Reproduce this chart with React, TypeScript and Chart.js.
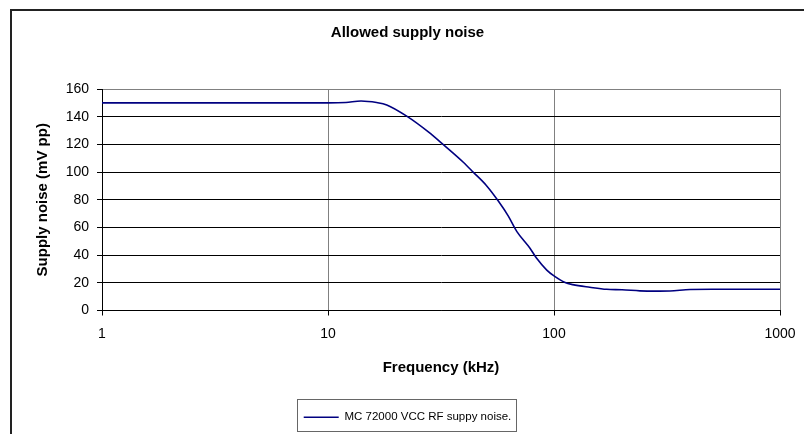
import React, { useEffect, useRef } from "react";
import { Chart, registerables } from "chart.js";

Chart.register(...registerables);

const frequencies = [1, 2, 10, 12, 14, 16.4, 18.2, 22.3, 27.8, 32.4, 39.7, 44, 50.4, 56.7, 62.8, 68.4, 78.3, 83.8, 92.9, 100, 112, 121, 144, 171, 200, 240, 280, 326, 400, 500, 700, 1000];
const noiseValues = [150, 150, 150, 150.3, 151.3, 150.2, 148.5, 140.4, 129, 119.8, 107.1, 99.8, 90, 79.1, 68.2, 57.2, 45, 37.7, 29.2, 25, 20.2, 18.7, 16.8, 15.3, 15, 14.2, 14, 14.1, 15.2, 15.3, 15.3, 15.3];
const xTickValues = [1, 10, 100, 1000];
const xTickLabels = ["1", "10", "100", "1000"];
const yTickStep = 20;
const yMin = 0;
const yMax = 160;

const chartTitle = "Allowed supply noise";
const xTitle = "Frequency (kHz)";
const yTitle = "Supply noise (mV pp)";
const seriesLabel = "MC 72000 VCC RF suppy noise.";

const FONT = "'Liberation Sans', Arial, sans-serif";

const framePlugin = {
  id: "frame",
  beforeDraw(chart: any) {
    const { ctx, width, height } = chart;
    ctx.save();
    ctx.fillStyle = "#ffffff";
    ctx.fillRect(0, 0, width, height);
    ctx.strokeStyle = "#222222";
    ctx.lineWidth = 2;
    ctx.strokeRect(11, 10, width + 20, height + 20);
    ctx.restore();
  },
  afterDraw(chart: any) {
    const legend = chart.legend;
    if (!legend || !legend.legendHitBoxes || !legend.legendHitBoxes.length) return;
    const hb = legend.legendHitBoxes[0];
    const { ctx } = chart;
    ctx.save();
    ctx.strokeStyle = "#666666";
    ctx.lineWidth = 1;
    const left = Math.round(hb.left - 7) + 0.5;
    const right = Math.round(hb.left + hb.width + 5) + 0.5;
    const top = Math.round(hb.top - 13) + 0.5;
    const bottom = top + 32;
    ctx.strokeRect(left, top, right - left, bottom - top);
    ctx.restore();
  },
};

export default function App() {
  const canvasRef = useRef<HTMLCanvasElement | null>(null);

  useEffect(() => {
    if (!canvasRef.current) return;
    Chart.defaults.font.family = FONT;
    Chart.defaults.color = "#000000";

    const chart = new Chart(canvasRef.current, {
      type: "line",
      data: {
        datasets: [
          {
            label: seriesLabel,
            data: frequencies.map((f, i) => ({ x: f, y: noiseValues[i] })),
            borderColor: "#000080",
            backgroundColor: "#000080",
            borderWidth: 1.6,
            pointRadius: 0,
            fill: false,
            cubicInterpolationMode: "monotone",
          },
        ],
      },
      options: {
        responsive: false,
        animation: false,
        layout: { padding: { left: 11, right: 0, top: 10, bottom: 1 } },
        plugins: {
          title: {
            display: true,
            text: chartTitle,
            color: "#000",
            font: { family: FONT, size: 15, weight: "bold" },
            padding: { top: 14, bottom: 47 },
          },
          legend: {
            display: true,
            position: "bottom",
            labels: {
              color: "#000",
              font: { family: FONT, size: 11.5 },
              usePointStyle: true,
              pointStyle: "line",
              pointStyleWidth: 35,
              padding: 2,
            },
          },
          tooltip: { enabled: false },
        },
        scales: {
          x: {
            type: "logarithmic",
            min: 1,
            max: 1000,
            afterBuildTicks: (scale: any) => {
              scale.ticks = xTickValues.map((v) => ({ value: v }));
            },
            afterFit: (scale: any) => {
              scale.height = 99;
              scale.paddingRight = 24;
              scale.paddingLeft = 0;
            },
            ticks: {
              autoSkip: false,
              maxRotation: 0,
              padding: 10,
              color: "#000",
              font: { family: FONT, size: 14 },
              callback: (_v: any, i: number) => xTickLabels[i],
            },
            grid: {
              color: (ctx: any) => (ctx.tick && ctx.tick.value === 1 ? "rgba(0,0,0,0)" : "#808080"),
              tickColor: "#000",
              tickLength: 5,
              lineWidth: 1,
            },
            border: { color: "#000", width: 1 },
            title: {
              display: true,
              text: xTitle,
              color: "#000",
              font: { family: FONT, size: 15, weight: "bold" },
              padding: { top: 0, bottom: 33 },
            },
          },
          y: {
            min: yMin,
            max: yMax,
            afterFit: (scale: any) => {
              scale.width = 91;
            },
            ticks: {
              stepSize: yTickStep,
              padding: 8,
              color: "#000",
              font: { family: FONT, size: 14 },
            },
            grid: {
              color: (ctx: any) => (ctx.tick && ctx.tick.value === yMax ? "#808080" : "#000000"),
              tickColor: "#000",
              tickLength: 5,
              lineWidth: 1,
            },
            border: { color: "#000", width: 1 },
            title: {
              display: true,
              text: yTitle,
              color: "#000",
              font: { family: FONT, size: 15, weight: "bold" },
              padding: { top: 23, bottom: 0 },
            },
          },
        },
      },
      plugins: [framePlugin],
    } as any);

    return () => chart.destroy();
  }, []);

  return (
    <div style={{ position: "absolute", left: 0, top: 0, width: 804, height: 434, background: "#fff" }}>
      <canvas ref={canvasRef} width={804} height={434} style={{ display: "block" }} />
    </div>
  );
}
